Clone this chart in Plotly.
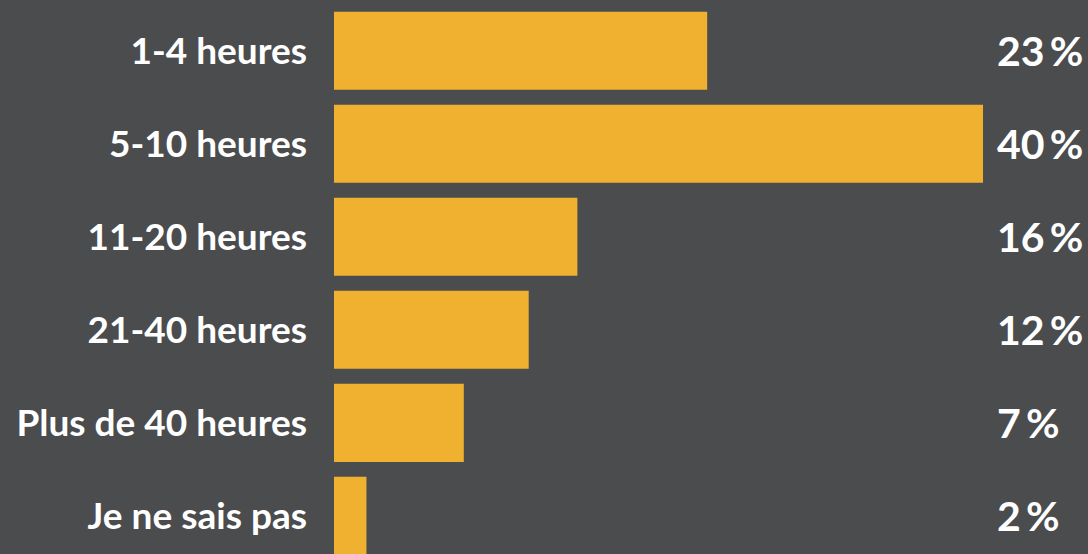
import plotly.graph_objects as go

categories = ["1-4 heures", "5-10 heures", "11-20 heures", "21-40 heures", "Plus de 40 heures", "Je ne sais pas"]
bar_values = [23.0, 40.0, 15.0, 12.0, 8.0, 2.0]
pct_labels = ["23\u2009%", "40\u2009%", "16\u2009%", "12\u2009%", "7\u2009%", "2\u2009%"]

BG = "#4b4c4e"
BAR = "#f0b030"
FONT = "Lato"

pos = list(range(len(categories)))

fig = go.Figure()
fig.add_trace(go.Bar(
    x=bar_values, y=pos, orientation="h",
    marker=dict(color=BAR, line=dict(width=0)),
    width=0.84, hoverinfo="skip",
))

for i, t in enumerate(pct_labels):
    fig.add_annotation(
        x=0.877, xref="paper", y=i, yref="y", text=t, showarrow=False,
        xanchor="left", yanchor="middle",
        font=dict(family=FONT, size=41, color="white", weight="bold"),
    )

fig.update_layout(
    width=1088, height=554,
    margin=dict(l=334, r=0, t=0, b=0),
    paper_bgcolor=BG, plot_bgcolor=BG,
    showlegend=False,
    xaxis=dict(range=[0, 46.47], visible=False, fixedrange=True),
    yaxis=dict(
        range=[5.41, -0.545], tickmode="array", tickvals=pos, ticktext=categories,
        showgrid=False, zeroline=False, showline=False, ticks="",
        ticklabelstandoff=26,
        tickfont=dict(family=FONT, size=37, color="white", weight="bold"),
    ),
)

fig.write_html("out.html")
